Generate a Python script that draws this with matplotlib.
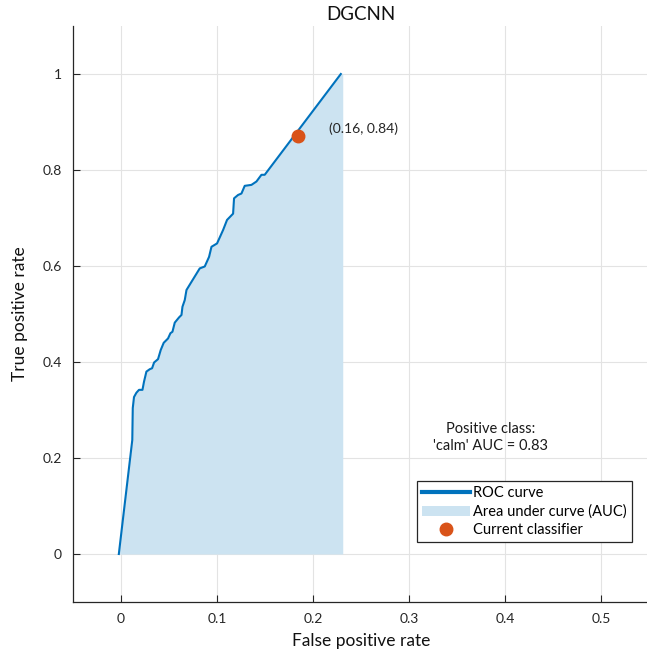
import matplotlib
matplotlib.use('Agg')
import matplotlib.pyplot as plt
import numpy as np

plt.rcParams['font.family'] = ['Lato', 'DejaVu Sans']

# ROC curve
fpr = [-0.002, 0.0120, 0.0125, 0.0138, 0.0163, 0.0190, 0.0226, 0.0242, 0.0267, 0.0302,
       0.0326, 0.0347, 0.0388, 0.0416, 0.0447, 0.0492, 0.0517, 0.0538, 0.0562, 0.0607,
       0.0632, 0.0642, 0.0666, 0.0684, 0.0736, 0.0822, 0.0874, 0.0919, 0.0944, 0.1002,
       0.1065, 0.1106, 0.1169, 0.1179, 0.1221, 0.1256, 0.1290, 0.1360, 0.1412, 0.1464,
       0.1498, 0.2290]
tpr = [0.0, 0.2375, 0.304, 0.327, 0.336, 0.342, 0.342, 0.359, 0.380, 0.385,
       0.387, 0.399, 0.406, 0.425, 0.440, 0.449, 0.460, 0.463, 0.482, 0.493,
       0.498, 0.515, 0.529, 0.550, 0.567, 0.595, 0.599, 0.619, 0.640, 0.647,
       0.675, 0.696, 0.709, 0.741, 0.748, 0.751, 0.767, 0.769, 0.776, 0.790,
       0.790, 1.0]

op_x, op_y = 0.184, 0.871
op_label = '(0.16, 0.84)'
auc_text = "Positive class:\n'calm' AUC = 0.83"

xticks = [0, 0.1, 0.2, 0.3, 0.4, 0.5]
xticklabels = ['0', '0.1', '0.2', '0.3', '0.4', '0.5']
yticks = [0, 0.2, 0.4, 0.6, 0.8, 1.0]
yticklabels = ['0', '0.2', '0.4', '0.6', '0.8', '1']

fig = plt.figure(figsize=(6.47, 6.58), dpi=100)
ax = fig.add_axes([72.7 / 647, 56 / 658, 576.6 / 647, 576 / 658])

ax.fill_between(fpr + [fpr[-1] + 0.002], tpr + [tpr[-1]], 0, color='#cce3f1', lw=0,
                label='Area under curve (AUC)', zorder=2)
ax.plot(fpr, tpr, color='#0072BD', lw=1.5, label='ROC curve', zorder=3)
ax.plot(op_x, op_y, 'o', color='#D95319', markersize=9, lw=0, label='Current classifier', zorder=4)
ax.text(0.2167, 0.885, op_label, fontsize=10, va='center', ha='left', color='#262626')
ax.text(0.385, 0.242, auc_text, fontsize=10.5, ha='center', va='center', color='#1a1a1a',
        linespacing=1.3)

ax.set_xlim(-0.05, 0.55)
ax.set_ylim(-0.1, 1.1)
ax.set_xticks(xticks)
ax.set_xticklabels(xticklabels)
ax.set_yticks(yticks)
ax.set_yticklabels(yticklabels)
ax.tick_params(direction='in', length=5, width=0.8, labelsize=10, colors='#262626', pad=8)
ax.grid(True, color='#e3e3e3', lw=0.8)
ax.set_axisbelow(True)
for s in ['top', 'right']:
    ax.spines[s].set_visible(False)
for s in ['left', 'bottom']:
    ax.spines[s].set_color('#262626')
    ax.spines[s].set_linewidth(0.9)

ax.set_title('DGCNN', fontsize=13.5, color='#111111', pad=4)
ax.set_xlabel('False positive rate', fontsize=12.5, color='#111111', labelpad=6)
ax.set_ylabel('True positive rate', fontsize=12.5, color='#111111', labelpad=10)

handles, labels = ax.get_legend_handles_labels()
order = [1, 0, 2]
leg = ax.legend([handles[i] for i in order], [labels[i] for i in order],
                loc='upper left', bbox_to_anchor=(417 / 647, 1 - 481 / 658),
                bbox_transform=fig.transFigure, borderaxespad=0, fancybox=False,
                edgecolor='#262626', framealpha=1, fontsize=10.5, handlelength=3.3,
                handletextpad=0.2, labelspacing=0.3, borderpad=0.35)
leg.get_frame().set_linewidth(0.9)
leg.get_lines()[0].set_linewidth(3)

fig.savefig('out.png', dpi=100)
